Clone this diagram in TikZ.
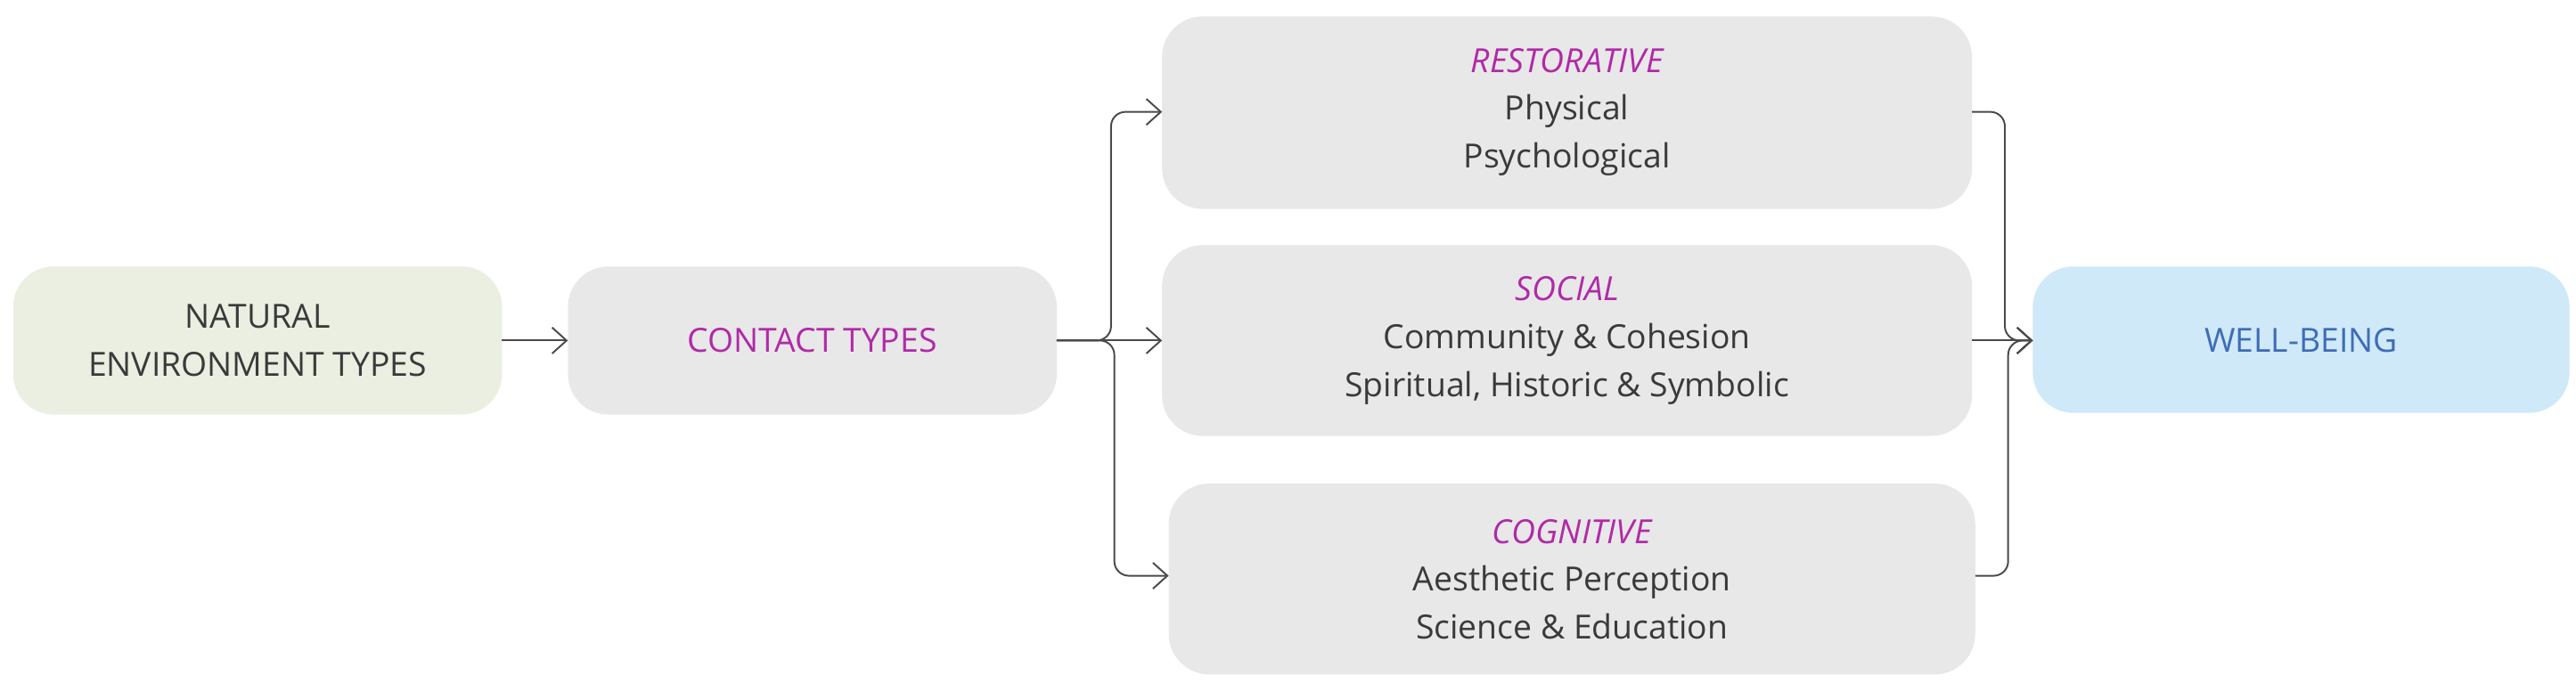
\documentclass[tikz,border=0pt]{standalone}
\usepackage{fontspec}
\setmainfont{Open Sans}
\usetikzlibrary{arrows.meta}
\definecolor{boxgray}{HTML}{E8E8E8}
\definecolor{boxgreen}{HTML}{EAEFE1}
\definecolor{boxblue}{HTML}{CFE9F9}
\definecolor{mag}{HTML}{B02AA8}
\definecolor{wbblue}{HTML}{3F6DB5}
\definecolor{txt}{HTML}{3A3A3A}
\definecolor{ln}{HTML}{4A4A4A}
\begin{document}
\begin{tikzpicture}[x=0.02cm,y=-0.02cm,
  box/.style={rounded corners=14pt,inner sep=0pt,align=center,text=txt,font=\fontsize{11.5}{16.5}\selectfont},
  conn/.style={draw=ln,line width=0.6pt,rounded corners=5pt,-{Straight Barb[length=5pt,width=9pt]}},
  hd/.style={text=mag,font=\fontsize{11.5}{16.5}\selectfont\itshape}]
\useasboundingbox (0,0) rectangle (1565,420);
\fill[boxgreen,rounded corners=14pt] (8,162) rectangle (305,252);
\node[box] (nat) at (156.5,207) {NATURAL\\ENVIRONMENT TYPES};
\path (8,162) coordinate (natnw) (305,207) coordinate (nate);
\fill[boxgray,rounded corners=14pt] (345,162) rectangle (642,252);
\node[box,text=mag] (con) at (493.5,207) {CONTACT TYPES};
\path (345,207) coordinate (conw) (642,207) coordinate (cone);
\fill[boxgray,rounded corners=14pt] (706,10) rectangle (1198,127);
\node[box] (res) at (952,68) {{\color{mag}\itshape RESTORATIVE}\\Physical\\Psychological};
\path (706,68) coordinate (resw) (1198,68) coordinate (rese);
\fill[boxgray,rounded corners=14pt] (706,149) rectangle (1198,265);
\node[box] (soc) at (952,207) {{\color{mag}\itshape SOCIAL}\\Community \& Cohesion\\Spiritual, Historic \& Symbolic};
\path (706,207) coordinate (socw) (1198,207) coordinate (soce);
\fill[boxgray,rounded corners=14pt] (710,294) rectangle (1200,410);
\node[box] (cog) at (955,352) {{\color{mag}\itshape COGNITIVE}\\Aesthetic Perception\\Science \& Education};
\path (710,350) coordinate (cogw) (1200,350) coordinate (coge);
\fill[boxblue,rounded corners=14pt] (1235,162) rectangle (1561,251);
\node[box,text=wbblue] (wb) at (1398,207) {WELL-BEING};
\path (1235,207) coordinate (wbw);
\draw[conn] (nate) -- (conw);
\draw[conn] (cone) -- (675,207) |- (resw);
\draw[conn] (cone) -- (socw);
\draw[conn] (cone) -- (677,207) |- (cogw);
\draw[conn] (rese) -- (1218,68) |- (wbw);
\draw[conn] (soce) -- (wbw);
\draw[conn] (coge) -- (1220,350) |- (wbw);
\end{tikzpicture}
\end{document}
